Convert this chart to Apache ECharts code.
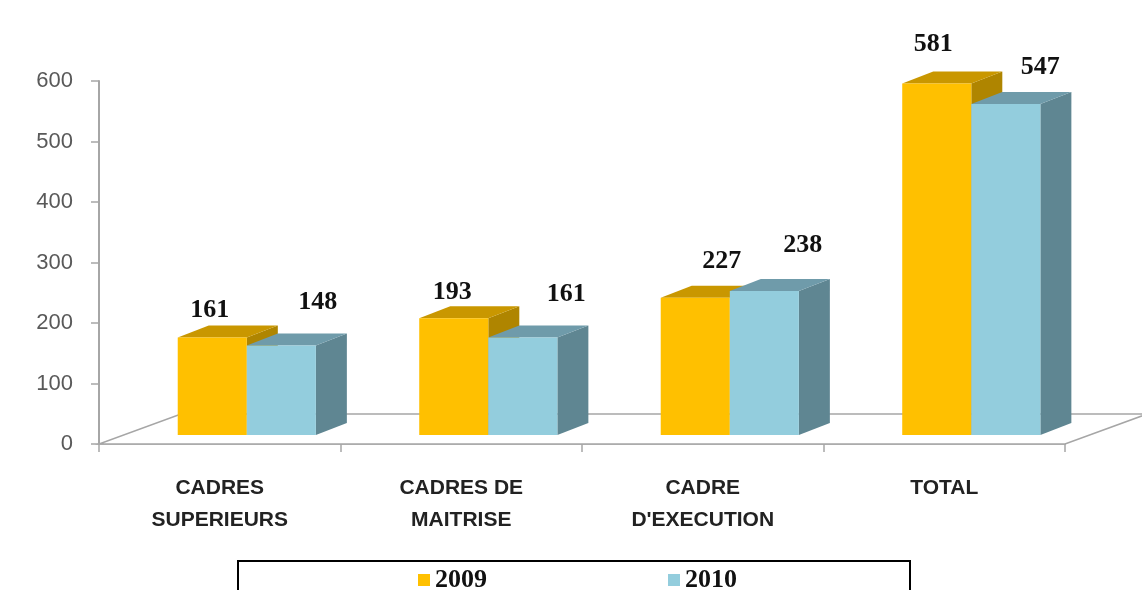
<!DOCTYPE html>
<html>
<head>
<meta charset="utf-8">
<title>Effectifs 2009 - 2010</title>
<script src="https://cdn.jsdelivr.net/npm/echarts@6.0.0/dist/echarts.min.js"></script>
<style>
  html, body { margin: 0; padding: 0; background: #fff; }
  #chart { width: 1142px; height: 590px; }
</style>
</head>
<body>
<div id="chart"></div>
<script>

// data
var categories = ['CADRES\nSUPERIEURS', 'CADRES DE\nMAITRISE', 'CADRE\nD\'EXECUTION', 'TOTAL'];
var values2009 = [161, 193, 227, 581];
var values2010 = [148, 161, 238, 547];
var seriesNames = ['2009', '2010'];
var yTicks = [0, 100, 200, 300, 400, 500, 600];

// little nudges for the value labels, as placed in the original (px, from bar top)
var labelShift2009 = [[-10, -27], [-9, -26], [19, -36], [-11, -39]];
var labelShift2010 = [[98, -43], [105, -43], [100, -46], [96, -37]];


var faces = {
    '2009': { front: '#FFC000', top: '#C99700', side: '#AF8500' },
    '2010': { front: '#93CDDD', top: '#6F9BAA', side: '#5F8692' }
};

var DEPTH_X = 31, DEPTH_Y = -12;   // bar depth
var LIFT = 9;                      // bars stand a bit behind the front edge


function makeBarRenderer(name, leftFrac, shifts) {
    return function (params, api) {
        var i = api.value(0);
        var v = api.value(1);
        var bottom = api.coord([i, 0]);
        var top = api.coord([i, v]);
        var bw = api.size([1, 0])[0];

        var x0 = bottom[0] + bw * leftFrac;
        var x1 = x0 + bw * 0.286;
        var yb = bottom[1] - LIFT;
        var yt = top[1] - LIFT;
        var col = faces[name];

        var s = shifts[i];

        return {
            type: 'group',
            children: [
                {
                    type: 'polygon',
                    shape: { points: [[x1, yt], [x1, yb], [x1 + DEPTH_X, yb + DEPTH_Y], [x1 + DEPTH_X, yt + DEPTH_Y]] },
                    style: { fill: col.side }
                },
                {
                    type: 'polygon',
                    shape: { points: [[x0, yt], [x1, yt], [x1 + DEPTH_X, yt + DEPTH_Y], [x0 + DEPTH_X, yt + DEPTH_Y]] },
                    style: { fill: col.top }
                },
                {
                    type: 'rect',
                    shape: { x: x0, y: yt, width: x1 - x0, height: yb - yt },
                    style: { fill: col.front }
                },
                {
                    type: 'text',
                    style: {
                        text: String(v),
                        x: bottom[0] + s[0],
                        y: yt + s[1],
                        align: 'center',
                        verticalAlign: 'middle',
                        fontFamily: '"Liberation Serif", "DejaVu Serif", serif',
                        fontWeight: 'bold',
                        fontSize: 26,
                        fill: '#111'
                    }
                }
            ]
        };
    };
}


function renderFloor(params, api) {
    var n = categories.length;
    var bw = api.size([1, 0])[0];
    var a = api.coord([0, 0]);
    var b = api.coord([n - 1, 0]);
    var xl = a[0] - bw / 2, xr = b[0] + bw / 2, y = a[1];
    return {
        type: 'polygon',
        shape: { points: [[xl, y], [xr, y], [xr + 82, y - 30], [xl + 82, y - 30]] },
        style: { fill: '#fff', stroke: '#A6A6A6', lineWidth: 1.5 }
    };
}


var chart = echarts.init(document.getElementById('chart'));

chart.setOption({
    animation: false,
    backgroundColor: '#fff',
    grid: { left: 99, right: 77, top: 81, bottom: 146 },
    legend: {
        data: seriesNames,
        left: 238,
        top: 561,
        orient: 'horizontal',
        icon: 'rect',
        itemWidth: 12,
        itemHeight: 12,
        itemGap: 181,
        padding: [6, 173, 30, 180],
        borderColor: '#000',
        borderWidth: 2,
        textStyle: {
            fontFamily: '"Liberation Serif", "DejaVu Serif", serif',
            fontWeight: 'bold',
            fontSize: 26,
            color: '#111'
        }
    },
    xAxis: {
        type: 'category',
        data: categories,
        axisLine: { lineStyle: { color: '#A6A6A6', width: 1.5 } },
        axisTick: { show: true, length: 8, lineStyle: { color: '#A6A6A6', width: 1.5 } },
        axisLabel: {
            margin: 28,
            interval: 0,
            lineHeight: 32,
            fontFamily: '"Liberation Sans", Arial, sans-serif',
            fontWeight: 'bold',
            fontSize: 21,
            color: '#222'
        }
    },
    yAxis: {
        type: 'value',
        min: yTicks[0],
        max: yTicks[yTicks.length - 1],
        interval: 100,
        splitLine: { show: false },
        axisLine: { show: true, lineStyle: { color: '#A6A6A6', width: 2 } },
        axisTick: { show: true, length: 8, lineStyle: { color: '#A6A6A6', width: 1.5 } },
        axisLabel: {
            margin: 26,
            fontFamily: '"Liberation Sans", Arial, sans-serif',
            fontSize: 22,
            color: '#595959'
        }
    },
    series: [
        {
            type: 'custom',
            silent: true,
            clip: false,
            z: 1,
            renderItem: renderFloor,
            data: [[0, 0]]
        },
        {
            name: seriesNames[0],
            type: 'custom',
            clip: false,
            z: 2,
            itemStyle: { color: faces['2009'].front },
            renderItem: makeBarRenderer('2009', -0.174, labelShift2009),
            encode: { x: 0, y: 1 },
            data: values2009.map(function (v, i) { return [i, v]; })
        },
        {
            name: seriesNames[1],
            type: 'custom',
            clip: false,
            z: 3,
            itemStyle: { color: faces['2010'].front },
            renderItem: makeBarRenderer('2010', 0.112, labelShift2010),
            encode: { x: 0, y: 1 },
            data: values2010.map(function (v, i) { return [i, v]; })
        }
    ]
});

</script>
</body>
</html>
